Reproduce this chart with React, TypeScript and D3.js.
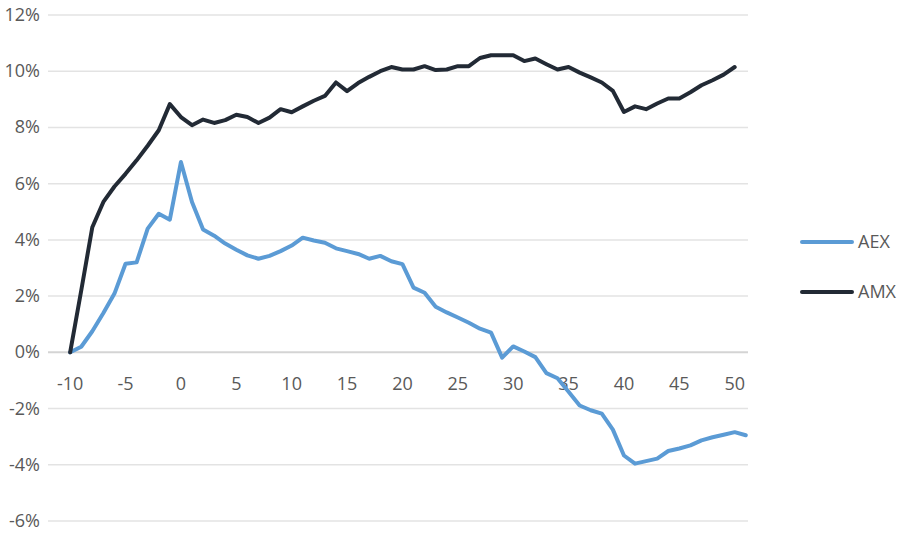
import React, { useEffect, useRef } from 'react';
import * as d3 from 'd3';

// days relative to event
const daysAEX = d3.range(-10, 52);
const daysAMX = d3.range(-10, 51);

// cumulative return in %
const aexValues = [
  0, 0.2, 0.75, 1.4, 2.09, 3.15, 3.2, 4.4, 4.93, 4.72,
  6.77, 5.35, 4.37, 4.15, 3.87, 3.65, 3.45, 3.33, 3.43, 3.6,
  3.8, 4.08, 3.98, 3.9, 3.7, 3.6, 3.5, 3.33, 3.43, 3.24,
  3.14, 2.3, 2.12, 1.62, 1.42, 1.24, 1.05, 0.84, 0.7, -0.19,
  0.21, 0.03, -0.17, -0.74, -0.92, -1.4, -1.89, -2.06, -2.18, -2.75,
  -3.67, -3.96, -3.87, -3.78, -3.51, -3.42, -3.31, -3.13, -3.02, -2.93,
  -2.84, -2.95
];

const amxValues = [
  0, 2.2, 4.45, 5.35, 5.9, 6.35, 6.83, 7.35, 7.9, 8.83,
  8.37, 8.08, 8.28, 8.16, 8.26, 8.45, 8.37, 8.16, 8.35, 8.65,
  8.54, 8.75, 8.95, 9.12, 9.6, 9.29, 9.58, 9.8, 10.0, 10.15,
  10.06, 10.06, 10.18, 10.04, 10.06, 10.18, 10.18, 10.47, 10.57, 10.57,
  10.57, 10.36, 10.45, 10.25, 10.06, 10.15, 9.95, 9.78, 9.6, 9.3,
  8.55, 8.75, 8.65, 8.85, 9.03, 9.03, 9.25, 9.5, 9.68, 9.88,
  10.15
];

const xTicks = d3.range(-10, 51, 5);
const yTicks = d3.range(-6, 13, 2);

const seriesNames = ['AEX', 'AMX'];
const seriesColors = ['#5B9BD5', '#222A35'];

const App = () => {
  const container = useRef(null);
  const width = 906;
  const height = 533;

  useEffect(() => {
    const svg = d3
      .select(container.current)
      .selectAll('svg')
      .data([0])
      .join('svg')
      .attr('width', width)
      .attr('height', height)
      .style('display', 'block');

    svg.selectAll('*').remove();

    const margins = { l: 48, r: 160, t: 15, b: 12 };

    const xScale = d3.scaleLinear().domain([-12, 51.2]).range([margins.l, 748]);
    const yScale = d3.scaleLinear().domain([-6, 12]).range([521, margins.t]);

    const font = "'Open Sans', 'Noto Sans', sans-serif";
    const fontSize = '18px';

    // gridlines
    svg
      .append('g')
      .selectAll('line')
      .data(yTicks)
      .join('line')
      .attr('x1', xScale.range()[0])
      .attr('x2', xScale.range()[1])
      .attr('y1', d => yScale(d))
      .attr('y2', d => yScale(d))
      .style('stroke', d => (d === 0 ? '#d4d4d4' : '#e3e3e3'))
      .style('stroke-width', d => (d === 0 ? 2 : 1.5));

    // y labels
    svg
      .append('g')
      .selectAll('text')
      .data(yTicks)
      .join('text')
      .attr('x', 40)
      .attr('y', d => yScale(d) + 6)
      .attr('text-anchor', 'end')
      .style('font-family', font)
      .style('font-size', fontSize)
      .style('fill', '#595959')
      .text(d => d + '%');

    // x labels
    svg
      .append('g')
      .selectAll('text')
      .data(xTicks)
      .join('text')
      .attr('x', d => xScale(d))
      .attr('y', yScale(0) + 38)
      .attr('text-anchor', 'middle')
      .style('font-family', font)
      .style('font-size', fontSize)
      .style('fill', '#595959')
      .text(d => d);

    const line = d3
      .line()
      .x(d => xScale(d[0]))
      .y(d => yScale(d[1]));

    const series = [
      daysAEX.map((d, i) => [d, aexValues[i]]),
      daysAMX.map((d, i) => [d, amxValues[i]])
    ];

    svg
      .append('g')
      .selectAll('path')
      .data(series)
      .join('path')
      .attr('d', d => line(d))
      .style('fill', 'none')
      .style('stroke', (d, i) => seriesColors[i])
      .style('stroke-width', 4)
      .style('stroke-linejoin', 'round')
      .style('stroke-linecap', 'round');

    // legend
    const legendg = svg
      .append('g')
      .selectAll('g')
      .data(seriesNames)
      .join('g')
      .attr('transform', (d, i) => `translate(802,${242 + i * 50})`);
    legendg
      .append('line')
      .attr('x1', 0)
      .attr('x2', 50)
      .style('stroke', (d, i) => seriesColors[i])
      .style('stroke-width', 4)
      .style('stroke-linecap', 'round');
    legendg
      .append('text')
      .attr('x', 56)
      .attr('y', 6)
      .style('font-family', font)
      .style('font-size', fontSize)
      .style('fill', '#595959')
      .text(d => d);
  }, []);

  return (
    <div
      ref={container}
      style={{ position: 'absolute', left: 0, top: 0, background: '#fff' }}
    ></div>
  );
};

export default App;
